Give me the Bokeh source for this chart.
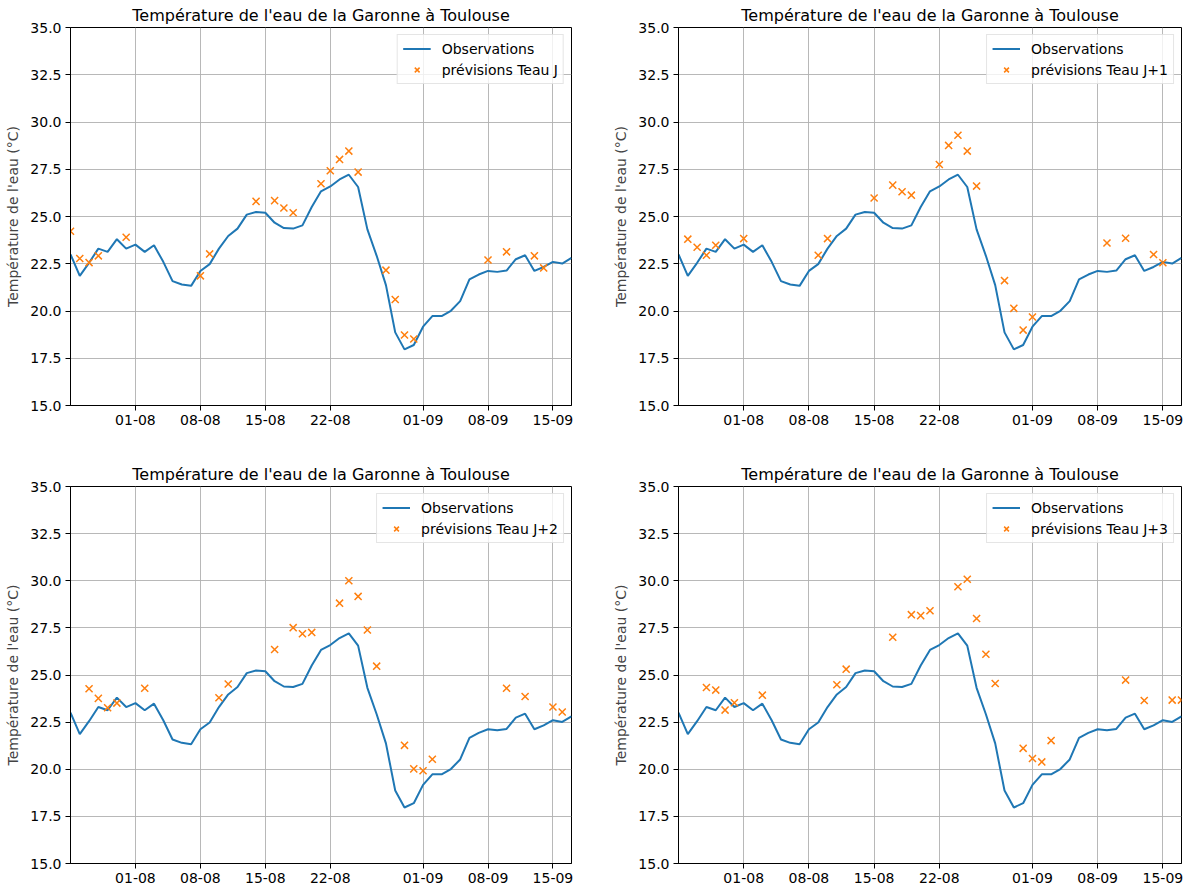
import pandas as pd
from bokeh.plotting import figure
from bokeh.layouts import column, row
from bokeh.models import Range1d, FixedTicker, DatetimeTickFormatter, PrintfTickFormatter
from bokeh.embed import file_html
from bokeh.resources import INLINE

YEAR = "2022"
TITLE = "Température de l'eau de la Garonne à Toulouse"
YLABEL = "Température de l'eau (°C)"

obs_start = "07-25"
obs_end = "09-17"
obs_values = [23.0, 21.86, 22.55, 23.30, 23.13, 23.80, 23.30, 23.51, 23.13, 23.48,
              22.60, 21.58, 21.40, 21.33, 22.12, 22.48, 23.30, 23.97, 24.36, 25.10,
              25.24, 25.20, 24.67, 24.39, 24.36, 24.53, 25.50, 26.33, 26.59, 26.96,
              27.21, 26.56, 24.32, 22.92, 21.37, 18.87, 17.97, 18.20, 19.17, 19.73,
              19.73, 20.01, 20.52, 21.67, 21.93, 22.12, 22.07, 22.14, 22.74, 22.95,
              22.12, 22.33, 22.60, 22.51, 22.81]

fc_j_dates = ["07-25", "07-26", "07-27", "07-28", "07-31", "08-08", "08-09", "08-14",
              "08-16", "08-17", "08-18", "08-21", "08-22", "08-23", "08-24", "08-25",
              "08-28", "08-29", "08-30", "08-31", "09-08", "09-10", "09-13", "09-14"]
fc_j_values = [24.22, 22.78, 22.56, 22.92, 23.90, 21.86, 23.02, 25.80, 25.84, 25.45,
               25.20, 26.73, 27.42, 28.02, 28.46, 27.35, 22.16, 20.61, 18.73, 18.52,
               22.70, 23.13, 22.92, 22.28]

fc_j1_dates = ["07-26", "07-27", "07-28", "07-29", "08-01", "08-09", "08-10", "08-15",
               "08-17", "08-18", "08-19", "08-22", "08-23", "08-24", "08-25", "08-26",
               "08-29", "08-30", "08-31", "09-01", "09-09", "09-11", "09-14", "09-15"]
fc_j1_values = [23.80, 23.37, 22.95, 23.48, 23.83, 22.95, 23.83, 25.98, 26.66, 26.31,
                26.13, 27.75, 28.76, 29.30, 28.46, 26.61, 21.61, 20.14, 18.99, 19.68,
                23.60, 23.85, 22.99, 22.55]

fc_j2_dates = ["07-27", "07-28", "07-29", "07-30", "08-02", "08-10", "08-11", "08-16",
               "08-18", "08-19", "08-20", "08-23", "08-24", "08-25", "08-26", "08-27",
               "08-30", "08-31", "09-01", "09-02", "09-10", "09-12", "09-15", "09-16"]
fc_j2_values = [24.27, 23.76, 23.26, 23.51, 24.30, 23.79, 24.52, 26.35, 27.51, 27.19,
                27.26, 28.81, 30.00, 29.17, 27.39, 25.47, 21.27, 20.02, 19.92, 20.53,
                24.30, 23.86, 23.30, 23.04]

fc_j3_dates = ["07-28", "07-29", "07-30", "07-31", "08-03", "08-11", "08-12", "08-17",
               "08-19", "08-20", "08-21", "08-24", "08-25", "08-26", "08-27", "08-28",
               "08-31", "09-01", "09-02", "09-03", "09-11", "09-13", "09-16", "09-17"]
fc_j3_values = [24.34, 24.20, 23.14, 23.53, 23.93, 24.48, 25.31, 27.00, 28.20, 28.15,
                28.41, 29.68, 30.08, 28.00, 26.10, 24.55, 21.11, 20.57, 20.39, 21.52,
                24.73, 23.65, 23.67, 23.67]

series_labels = ["prévisions Teau J", "prévisions Teau J+1", "prévisions Teau J+2", "prévisions Teau J+3"]

x_tick_dates = ["08-01", "08-08", "08-15", "08-22", "09-01", "09-08", "09-15"]
y_ticks = [15.0, 17.5, 20.0, 22.5, 25.0, 27.5, 30.0, 32.5, 35.0]
y_min, y_max = 15.0, 35.0


def to_ts(md):
    return pd.Timestamp(f"{YEAR}-{md}")


def ms(md):
    return to_ts(md).value // 10**6


FONT = "DejaVu Sans"


def make_fig(fc_dates, fc_values, label, width, height, bl, br, bt, bb):
    p = figure(width=width, height=height, output_backend="svg", toolbar_location=None,
               x_axis_type="datetime", title=TITLE,
               min_border_left=bl, min_border_right=br, min_border_top=bt, min_border_bottom=bb)
    p.x_range = Range1d(to_ts(obs_start), to_ts(obs_end))
    p.y_range = Range1d(y_min, y_max)

    obs_x = pd.date_range(to_ts(obs_start), to_ts(obs_end), freq="D")
    p.line(obs_x, obs_values, line_color="#1f77b4", line_width=2, legend_label="Observations")
    p.scatter([to_ts(d) for d in fc_dates], fc_values, marker="x", size=10,
              line_color="#ff7f0e", line_width=1.5, legend_label=label)

    p.title.text_font = FONT
    p.title.text_font_size = "16px"
    p.title.text_font_style = "normal"
    p.title.align = "center"
    p.title.text_color = "black"
    p.title.standoff = 6
    p.title.offset = 0

    p.xaxis.ticker = FixedTicker(ticks=[ms(d) for d in x_tick_dates])
    p.xaxis.formatter = DatetimeTickFormatter(days="%d-%m", months="%d-%m", hours="%d-%m")
    p.yaxis.ticker = FixedTicker(ticks=y_ticks)
    p.yaxis.formatter = PrintfTickFormatter(format="%.1f")
    p.yaxis.axis_label = YLABEL
    p.yaxis.axis_label_text_font = FONT
    p.yaxis.axis_label_text_font_size = "14px"
    p.yaxis.axis_label_text_font_style = "normal"
    p.yaxis.axis_label_standoff = 6

    for ax in (p.xaxis, p.yaxis):
        ax.major_label_text_font = FONT
        ax.major_label_text_font_size = "14px"
        ax.major_label_text_color = "black"
        ax.axis_line_color = "black"
        ax.axis_line_width = 1
        ax.major_tick_line_color = "black"
        ax.major_tick_out = 5
        ax.major_tick_in = 0
        ax.minor_tick_out = 0
        ax.minor_tick_in = 0
        ax.major_label_standoff = 4

    p.outline_line_color = "black"
    p.outline_line_width = 1
    p.outline_line_alpha = 1
    p.grid.grid_line_color = "#b0b0b0"
    p.grid.grid_line_width = 1
    p.grid.grid_line_alpha = 0.9
    p.background_fill_color = "white"
    p.border_fill_color = "white"

    lg = p.legend[0]
    lg.location = "top_right"
    lg.margin = 7
    lg.padding = 5
    lg.spacing = 4
    lg.label_text_font = FONT
    lg.label_text_font_size = "14px"
    lg.label_text_color = "black"
    lg.label_height = 17
    lg.glyph_height = 17
    lg.glyph_width = 28
    lg.label_standoff = 11
    lg.border_line_color = "#cccccc"
    lg.border_line_width = 1
    lg.background_fill_color = "white"
    lg.background_fill_alpha = 0.8
    return p


p1 = make_fig(fc_j_dates, fc_j_values, series_labels[0], 608, 448, 70, 37, 26, 43)
p2 = make_fig(fc_j1_dates, fc_j1_values, series_labels[1], 579, 448, 70, 6, 26, 43)
p3 = make_fig(fc_j2_dates, fc_j2_values, series_labels[2], 608, 439, 70, 37, 38, 24)
p4 = make_fig(fc_j3_dates, fc_j3_values, series_labels[3], 579, 439, 70, 6, 38, 24)

layout = column(row(p1, p2), row(p3, p4))

open("out.html", "w").write(file_html(layout, INLINE))
